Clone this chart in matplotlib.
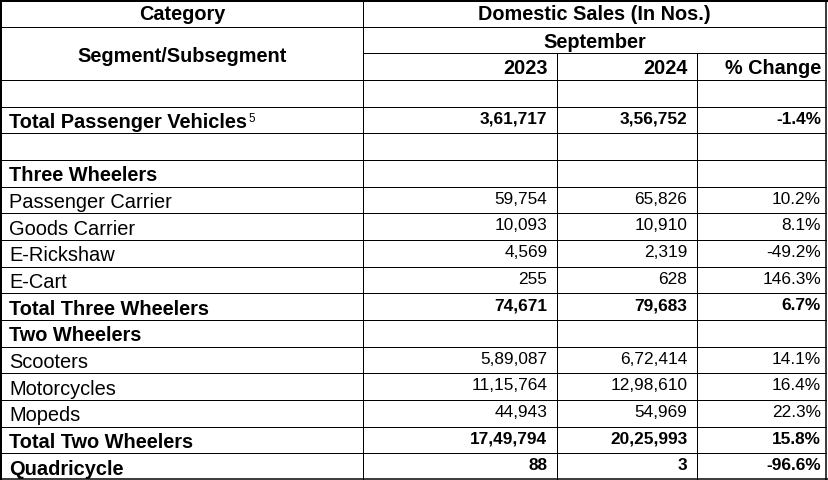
import matplotlib
matplotlib.use('Agg')
from matplotlib import pyplot as plt

plt.rcParams['font.family'] = ['Liberation Sans', 'DejaVu Sans']

# table contents (None = blank cell)
segments = ['', 'Total Passenger Vehicles', '', 'Three Wheelers',
            'Passenger Carrier', 'Goods Carrier', 'E-Rickshaw', 'E-Cart',
            'Total Three Wheelers', 'Two Wheelers', 'Scooters', 'Motorcycles',
            'Mopeds', 'Total Two Wheelers', 'Quadricycle']
sales_2023 = [None, 361717, None, None, 59754, 10093, 4569, 255, 74671,
              None, 589087, 1115764, 44943, 1749794, 88]
sales_2024 = [None, 356752, None, None, 65826, 10910, 2319, 628, 79683,
              None, 672414, 1298610, 54969, 2025993, 3]
pct_change = [None, -1.4, None, None, 10.2, 8.1, -49.2, 146.3, 6.7,
              None, 14.1, 16.4, 22.3, 15.8, -96.6]
years = ['2023', '2024', '% Change']

bold_rows = {'Total Passenger Vehicles', 'Three Wheelers', 'Total Three Wheelers',
             'Two Wheelers', 'Total Two Wheelers', 'Quadricycle'}


def indian(n):
    s = str(n)
    if len(s) <= 3:
        return s
    head, tail = s[:-3], s[-3:]
    groups = []
    while len(head) > 2:
        groups.insert(0, head[-2:])
        head = head[:-2]
    if head:
        groups.insert(0, head)
    return ','.join(groups) + ',' + tail


W, H = 829, 480
nrows = 18
rh = H / nrows
cols = [1, 363, 557, 697, 826.5]

fig = plt.figure(figsize=(W / 100, H / 100), dpi=100)
ax = fig.add_axes([0, 0, 1, 1])
ax.set_xlim(0, W)
ax.set_ylim(H, 0)
ax.axis('off')

px = 0.72
# horizontal rules
for k in range(1, nrows):
    x0 = cols[1] if k == 2 else cols[0]
    ax.plot([x0, cols[4]], [k * rh, k * rh], color='black', lw=px)
# vertical rules
ax.plot([cols[1], cols[1]], [0, H], color='black', lw=px)
for c in cols[2:4]:
    ax.plot([c, c], [2 * rh, H], color='black', lw=px)
# outer border
ax.plot([0, W], [1, 1], color='black', lw=2 * px)
ax.plot([1, 1], [0, H], color='black', lw=2 * px)
ax.plot([cols[4], cols[4]], [0, H], color='black', lw=1.5 * px)
ax.plot([0, W], [H - 1.2, H - 1.2], color='black', lw=1.5 * px)

# header
hfs = 14.3
mid_left = (cols[0] + cols[1]) / 2
mid_right = (cols[1] + cols[4]) / 2
ax.text(mid_left, 20, 'Category', ha='center', va='baseline', fontsize=hfs, fontweight='bold')
ax.text(mid_left, 61.5, 'Segment/Subsegment', ha='center', va='baseline', fontsize=hfs, fontweight='bold')
ax.text(mid_right, 20, 'Domestic Sales (In Nos.)', ha='center', va='baseline', fontsize=hfs, fontweight='bold')
ax.text(mid_right, 47.5, 'September', ha='center', va='baseline', fontsize=hfs, fontweight='bold')
right_x = [547.5, 687.5, 821]
for x, yr in zip(right_x, years):
    ax.text(x, 74, yr, ha='right', va='baseline', fontsize=hfs, fontweight='bold')

# body
for i, seg in enumerate(segments):
    top = (3 + i) * rh
    weight = 'bold' if seg in bold_rows else 'normal'
    t = ax.text(9, top + 21.4, seg, ha='left', va='baseline', fontsize=14.4, fontweight=weight)
    if seg == 'Total Passenger Vehicles':
        ax.annotate('5', xy=(1, top + 15), xycoords=(t, 'data'), xytext=(0.8, 0),
                    textcoords='offset points', ha='left', va='baseline', fontsize=8.4)
    vals = [sales_2023[i], sales_2024[i], pct_change[i]]
    if vals[0] is None:
        continue
    strs = [indian(vals[0]), indian(vals[1]), f'{vals[2]:.1f}%']
    for x, s in zip(right_x, strs):
        ax.text(x, top + 17, s, ha='right', va='baseline', fontsize=12.4, fontweight=weight)

fig.savefig('out.png', dpi=100)
